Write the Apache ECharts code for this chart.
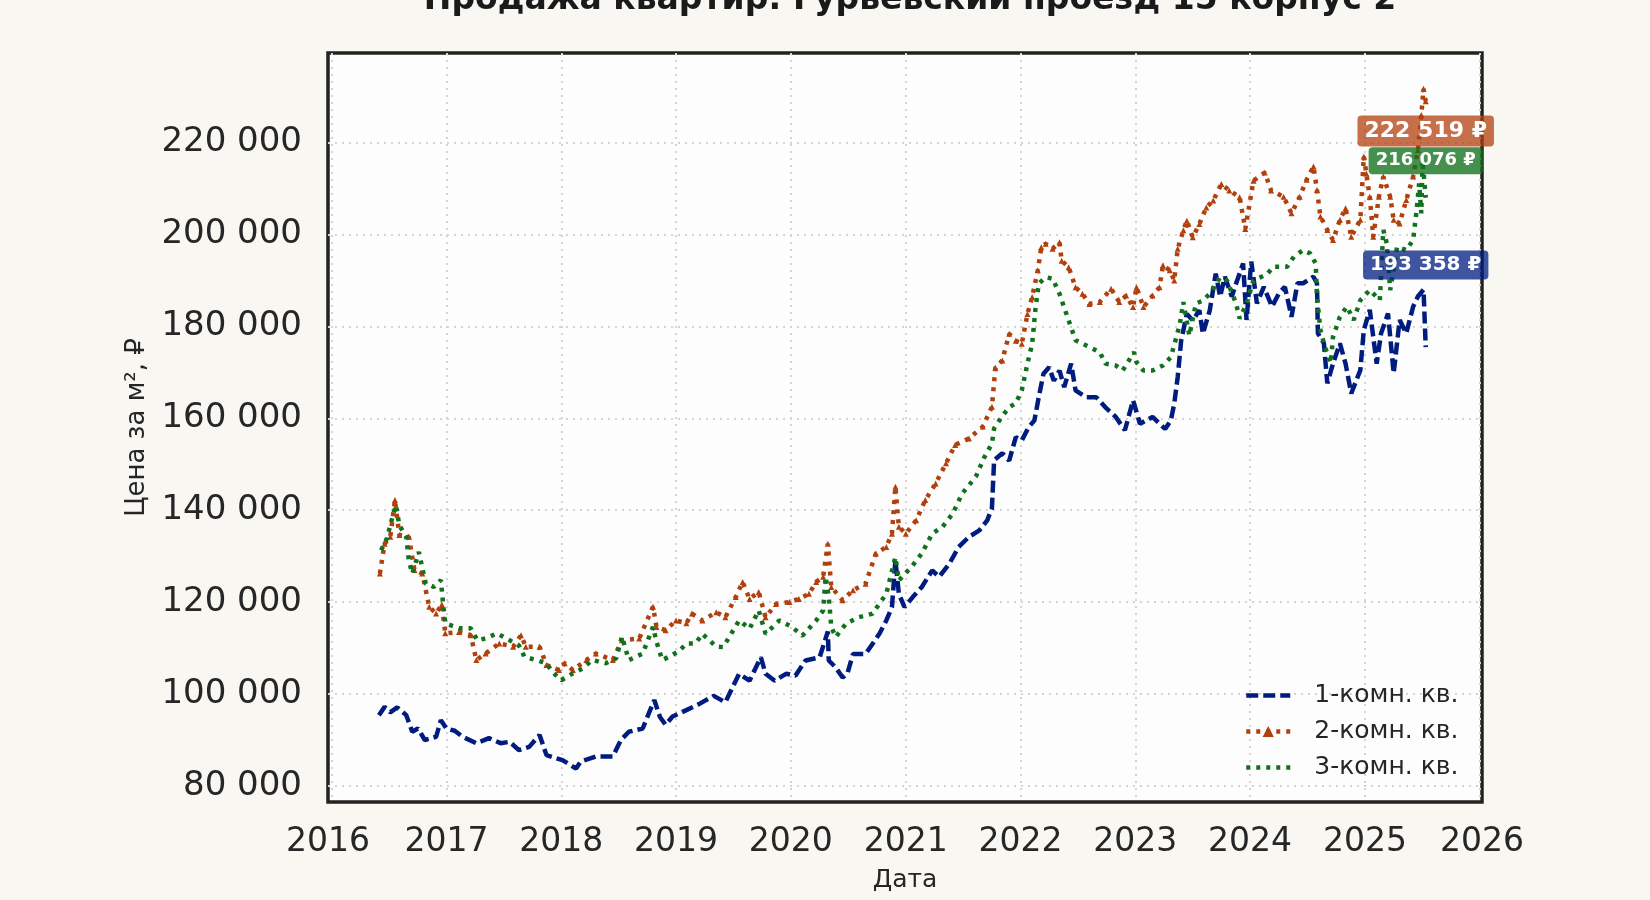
<!DOCTYPE html>
<html>
<head>
<meta charset="utf-8">
<script src="https://cdn.jsdelivr.net/npm/echarts@6/dist/echarts.min.js"></script>
<style>
  html, body { margin: 0; padding: 0; background: #f8f7f2; }
  #chart { width: 1650px; height: 900px; }
</style>
</head>
<body>
<div id="chart"></div>
<script>
// 1-комн. кв.
const dates1 = [
  '2016-05-31','2016-06-18','2016-07-06','2016-07-28','2016-08-26','2016-09-14','2016-10-02','2016-10-24','2016-11-29','2016-12-14',
  '2017-01-01','2017-01-27','2017-02-21','2017-04-06','2017-05-16','2017-06-22','2017-07-21','2017-08-19','2017-09-21','2017-10-24','2017-11-15',
  '2018-01-05','2018-02-17','2018-03-04','2018-04-21','2018-06-14','2018-07-10','2018-08-04','2018-09-17','2018-10-24','2018-11-11','2018-11-29','2018-12-21',
  '2019-02-03','2019-03-15','2019-05-01','2019-06-07','2019-07-21','2019-08-23','2019-09-28','2019-10-13','2019-11-11','2019-12-17',
  '2020-01-16','2020-02-17','2020-04-02','2020-04-28','2020-05-01','2020-05-23','2020-06-14','2020-06-29','2020-07-17','2020-08-26','2020-09-17','2020-10-09','2020-10-31','2020-11-18','2020-11-29','2020-12-10','2020-12-28',
  '2021-01-23','2021-02-21','2021-03-26','2021-04-17','2021-05-20','2021-06-18','2021-07-21','2021-08-23','2021-09-17','2021-10-02','2021-10-09','2021-11-04','2021-11-26','2021-12-17',
  '2022-01-05','2022-01-27','2022-02-14','2022-02-28','2022-03-15','2022-04-02','2022-04-17','2022-05-05','2022-05-20','2022-06-11','2022-06-25','2022-07-28','2022-08-30','2022-09-28','2022-10-31','2022-11-29','2022-12-25',
  '2023-01-16','2023-02-25','2023-04-06','2023-04-24','2023-05-05','2023-05-16','2023-05-27','2023-06-14','2023-07-03','2023-07-24','2023-08-04','2023-08-26','2023-09-14','2023-09-28','2023-10-13','2023-11-04','2023-11-18','2023-12-10','2023-12-21',
  '2024-01-05','2024-01-23','2024-02-14','2024-03-11','2024-04-02','2024-04-21','2024-05-12','2024-05-31','2024-06-18','2024-07-21','2024-08-01','2024-08-04','2024-08-23','2024-09-03','2024-09-21','2024-10-13','2024-10-31','2024-11-18','2024-12-17','2024-12-28',
  '2025-01-16','2025-02-07','2025-02-21','2025-03-15','2025-04-02','2025-04-21','2025-05-12','2025-06-03','2025-06-18','2025-07-06','2025-07-13'
];
const prices1 = [
  95400,97200,96000,97100,95400,91800,92500,90000,90700,94300,
  92500,92000,90700,89300,90400,89300,89600,87800,88500,91100,86700,
  85600,83800,85300,86400,86400,90000,91800,92500,98700,95000,93300,95100,
  96500,97800,99600,98200,104400,102900,108000,104400,102900,104400,
  104000,107300,108000,113600,107300,105800,103600,104400,108700,108700,110900,113100,116000,118900,129100,121800,118900,
  121100,123300,126900,125500,128400,132000,134200,135600,137800,140400,150900,152400,150800,155900,
  155200,158100,159500,164600,169700,171100,168200,170400,166800,171900,166100,164600,164600,162400,160300,157400,163900,
  158800,160300,157700,159500,163200,169000,176900,182700,181300,183500,178400,183500,191500,186500,190800,186500,189400,193700,181400,
  194100,185000,188600,184300,187200,188600,182100,189400,189400,190800,189400,178500,176300,167600,171900,176300,171900,165400,170500,179200,
  183600,171900,178500,182800,169800,181400,178500,184300,186500,188000,175500
];

// 2-комн. кв.
const dates2 = [
  '2016-06-03','2016-06-18','2016-07-06','2016-07-21','2016-08-04','2016-09-03','2016-09-21','2016-10-16','2016-11-07','2016-11-29','2016-12-17','2016-12-28',
  '2017-02-10','2017-03-19','2017-04-06','2017-05-05','2017-06-18','2017-08-01','2017-08-26','2017-09-10','2017-10-24','2017-11-15','2017-12-25',
  '2018-01-12','2018-02-07','2018-03-22','2018-04-21','2018-06-14','2018-07-13','2018-09-06','2018-10-20','2018-10-31','2018-11-29',
  '2019-01-01','2019-02-03','2019-02-21','2019-03-26','2019-05-09','2019-06-07','2019-07-10','2019-08-01','2019-08-23','2019-09-21','2019-10-13','2019-11-15','2019-12-28',
  '2020-01-27','2020-02-28','2020-03-22','2020-04-13','2020-04-28','2020-05-09','2020-06-14','2020-07-17','2020-08-26','2020-09-28','2020-10-31','2020-11-18','2020-11-29','2020-12-10',
  '2021-01-01','2021-02-03','2021-03-04','2021-04-06','2021-05-09','2021-06-07','2021-07-21','2021-09-03','2021-10-02','2021-10-13','2021-11-04','2021-11-26','2021-12-17',
  '2022-01-05','2022-01-23','2022-02-07','2022-02-25','2022-03-08','2022-03-22','2022-04-13','2022-05-05','2022-05-12','2022-06-03','2022-06-25','2022-07-17','2022-08-08','2022-09-10','2022-10-16','2022-11-11','2022-12-03','2022-12-25',
  '2023-01-05','2023-01-27','2023-02-25','2023-03-19','2023-03-30','2023-04-21','2023-05-05','2023-05-16','2023-06-03','2023-06-14','2023-07-03','2023-07-24','2023-08-15','2023-09-06','2023-10-02','2023-10-27','2023-11-29','2023-12-17',
  '2024-01-12','2024-02-17','2024-03-08','2024-04-17','2024-05-12','2024-06-07','2024-06-29','2024-07-21','2024-08-01','2024-08-12','2024-09-03','2024-09-21','2024-10-13','2024-10-31','2024-11-18','2024-12-17','2024-12-28',
  '2025-01-05','2025-01-16','2025-01-27','2025-02-14','2025-02-28','2025-03-22','2025-04-02','2025-04-21','2025-05-12','2025-06-03','2025-06-18','2025-06-29','2025-07-06','2025-07-13'
];
const prices2 = [
  126200,132700,134200,142200,134600,134200,127000,126200,119000,117500,119500,113200,
  113500,112800,107400,108800,111000,110300,112800,110300,110300,106300,105200,
  106700,105200,107400,108800,107400,111700,112100,119000,114600,113900,
  116000,115400,117500,116000,117800,116700,121100,124400,120700,122200,116700,119600,120000,
  120700,121800,124400,125500,132700,123300,120400,122600,124000,130600,132000,134900,145100,136400,
  134900,137800,142200,145800,150200,154200,155600,158200,162500,171000,172600,178400,176900,
  176200,182700,186400,192200,197200,198000,196900,198300,194300,192900,188500,187100,184900,185300,188200,185300,186700,184200,
  188500,184200,186700,188500,193300,192200,190000,196900,200900,203000,199400,202300,205900,207400,211000,209600,208100,201200,
  211700,213500,209600,208200,204600,208200,211900,214800,209700,203900,201000,198800,203200,205700,199500,203200,217000,
  213300,208200,199500,208200,212600,208200,203200,202400,207500,212600,218400,226000,231700,229000
];

// 3-комн. кв.
const dates3 = [
  '2016-06-07','2016-06-25','2016-07-13','2016-07-24','2016-08-04','2016-08-26','2016-09-03','2016-09-14','2016-10-05','2016-10-27','2016-11-22','2016-12-14','2016-12-21','2016-12-28',
  '2017-02-10','2017-03-19','2017-04-09','2017-05-05','2017-06-11','2017-07-10','2017-08-19','2017-09-06','2017-10-13','2017-11-15','2017-12-03',
  '2018-01-01','2018-02-07','2018-03-11','2018-04-09','2018-05-23','2018-06-25','2018-07-13','2018-08-04','2018-09-17','2018-10-20','2018-10-31','2018-11-18','2018-12-10',
  '2019-01-12','2019-02-03','2019-03-04','2019-03-26','2019-05-09','2019-05-31','2019-07-21','2019-08-23','2019-09-21','2019-10-13','2019-11-26',
  '2020-01-05','2020-02-07','2020-03-22','2020-04-13','2020-04-21','2020-05-01','2020-05-09','2020-05-23','2020-06-25','2020-08-04','2020-09-17','2020-10-31','2020-11-29','2020-12-10',
  '2021-01-23','2021-02-21','2021-03-26','2021-04-28','2021-05-31','2021-06-29','2021-08-12','2021-09-06','2021-10-02','2021-10-09','2021-11-04','2021-11-26','2021-12-17',
  '2022-01-05','2022-01-23','2022-02-07','2022-02-17','2022-02-28','2022-03-22','2022-04-13','2022-05-05','2022-05-23','2022-06-03','2022-06-25','2022-08-08','2022-09-10','2022-09-28','2022-10-31','2022-11-22','2022-12-28',
  '2023-01-05','2023-01-27','2023-02-25','2023-03-30','2023-04-24','2023-05-12','2023-05-23','2023-06-03','2023-06-22','2023-07-13','2023-08-04','2023-08-26','2023-09-28','2023-10-20','2023-11-18','2023-11-29','2023-12-21',
  '2024-01-12','2024-02-25','2024-03-15','2024-04-28','2024-05-20','2024-06-18','2024-07-10','2024-07-28','2024-08-01','2024-08-12','2024-08-26','2024-09-14','2024-09-21','2024-10-13','2024-11-04','2024-11-26','2024-12-17',
  '2025-01-16','2025-02-17','2025-02-28','2025-03-11','2025-03-22','2025-04-13','2025-05-12','2025-06-03','2025-06-14','2025-06-22','2025-06-29','2025-07-03','2025-07-13'
];
const prices3 = [
  131300,133800,138500,141100,136700,134200,129100,126200,130900,124000,123300,124800,119700,115400,
  114300,114300,111700,112100,113200,112100,110600,108100,107400,106700,104900,
  103000,104500,105600,107400,106700,107800,112500,107400,108800,114600,111400,107400,108100,
  109400,111000,111000,113100,110300,110200,116000,114200,118200,113100,116000,
  114600,112700,116000,118200,125500,121100,114600,112400,115300,116700,117500,121800,129800,124700,
  128000,130600,134900,136400,139300,143600,147300,151300,154500,157800,160500,162400,163300,
  166100,171900,176200,183500,189300,190700,190400,187100,183500,181300,177000,175500,174400,171900,171500,170400,174400,
  172200,170400,170400,171500,173300,177700,180600,185300,178000,185000,185600,187100,190700,190000,184900,181700,184900,
  190000,191400,193000,193000,195200,196600,195900,193700,186500,179200,175600,172000,177700,182100,184300,181400,185700,
  187900,185700,201000,198100,187900,197300,196600,198800,205300,211100,204600,216000,208000
];

const seriesNames = ['1-комн. кв.', '2-комн. кв.', '3-комн. кв.'];
const lineColors = ['#001c7f', '#b1400d', '#12711c'];
const badgeColors = ['rgba(0,28,127,0.75)', 'rgba(177,64,13,0.75)', 'rgba(18,113,28,0.78)'];
const badgeValues = [193358, 222519, 216076];
const badgeFonts = [20, 22, 18];
const yTicks = [80000, 100000, 120000, 140000, 160000, 180000, 200000, 220000];

const fmt = v => String(v).replace(/\B(?=(\d{3})+(?!\d))/g, ' ');

const chart = echarts.init(document.getElementById('chart'));

const allDates = [dates1, dates2, dates3];
const allPrices = [prices1, prices2, prices3];
const lineTypes = [[12, 5], [4, 6], [4, 6]];
const DAY = 24 * 3600 * 1000;

const series = seriesNames.map((name, k) => {
  const d = allDates[k];
  const p = allPrices[k];
  return {
    name: name,
    type: 'line',
    data: d.map((x, i) => [x, p[i]]),
    showSymbol: k === 1,
    symbol: k === 1 ? 'triangle' : 'none',
    symbolSize: 6,
    itemStyle: { color: lineColors[k] },
    lineStyle: { color: lineColors[k], width: 4.5, type: lineTypes[k], cap: 'butt' },
    z: 2 + k,
    markPoint: {
      symbol: 'rect',
      symbolSize: 1,
      itemStyle: { color: 'rgba(0,0,0,0)' },
      z: 20,
      label: {
        show: true,
        position: 'inside',
        formatter: fmt(badgeValues[k]) + ' ₽',
        color: '#ffffff',
        fontFamily: 'DejaVu Sans',
        fontWeight: 'bold',
        fontSize: badgeFonts[k],
        backgroundColor: badgeColors[k],
        borderRadius: 4,
        padding: [5, 7, 4, 7]
      },
      data: [{ coord: [d[d.length - 1], badgeValues[k]] }]
    }
  };
});

const legendData = seriesNames.map((name, k) => ({
  name: name,
  itemStyle: k === 1 ? { color: lineColors[k] } : { opacity: 0 },
  lineStyle: { color: lineColors[k], width: 4.5, type: lineTypes[k] }
}));

chart.setOption({
  animation: false,
  backgroundColor: '#f8f7f2',
  textStyle: { fontFamily: 'DejaVu Sans' },
  title: {
    text: 'Продажа квартир: Гурьевский проезд 15 корпус 2',
    left: 905,
    top: -21,
    textAlign: 'center',
    textStyle: { fontFamily: 'DejaVu Sans', fontWeight: 'bold', fontSize: 33, color: '#1a1a1a' }
  },
  grid: {
    left: 328, right: 168, top: 53, bottom: 98,
    show: true,
    backgroundColor: '#fdfdfd',
    borderColor: '#222222',
    borderWidth: 3.5
  },
  legend: {
    orient: 'vertical',
    left: 1239,
    top: 678,
    itemWidth: 44,
    itemHeight: 14,
    itemGap: 11,
    data: legendData,
    textStyle: { fontFamily: 'DejaVu Sans', fontSize: 25, color: '#262626', padding: [0, 0, 0, 19] }
  },
  xAxis: {
    type: 'time',
    min: '2015-12-21',
    max: '2026-01-08',
    splitNumber: 10,
    name: 'Дата',
    nameLocation: 'middle',
    nameGap: 66,
    nameTextStyle: { fontFamily: 'DejaVu Sans', fontSize: 25, color: '#262626' },
    axisLine: { show: false },
    axisTick: { show: false },
    axisLabel: {
      // the tick at the left edge stands for 2016
      formatter: v => String(new Date(v + 20 * DAY).getFullYear()),
      fontFamily: 'DejaVu Sans',
      fontSize: 33,
      color: '#262626',
      margin: 24,
      showMinLabel: true,
      showMaxLabel: true
    },
    splitLine: {
      show: true,
      showMinLine: false,
      showMaxLine: false,
      lineStyle: { color: '#d4d4d4', width: 2, type: [2, 5] }
    }
  },
  yAxis: {
    type: 'value',
    min: 76500,
    max: 239500,
    minInterval: 20000,
    maxInterval: 20000,
    splitNumber: 8,
    name: 'Цена за м², ₽',
    nameLocation: 'middle',
    nameGap: 178,
    nameTextStyle: { fontFamily: 'DejaVu Sans', fontSize: 26, color: '#262626' },
    axisLine: { show: false },
    axisTick: { show: false },
    axisLabel: {
      fontFamily: 'DejaVu Sans',
      fontSize: 34,
      color: '#262626',
      margin: 26,
      showMinLabel: false,
      showMaxLabel: false,
      formatter: v => (yTicks.indexOf(v) >= 0 ? fmt(v) : '')
    },
    splitLine: {
      show: true,
      showMinLine: false,
      showMaxLine: false,
      lineStyle: { color: '#d4d4d4', width: 2, type: [2, 5] }
    }
  },
  series: series
});
</script>
</body>
</html>
